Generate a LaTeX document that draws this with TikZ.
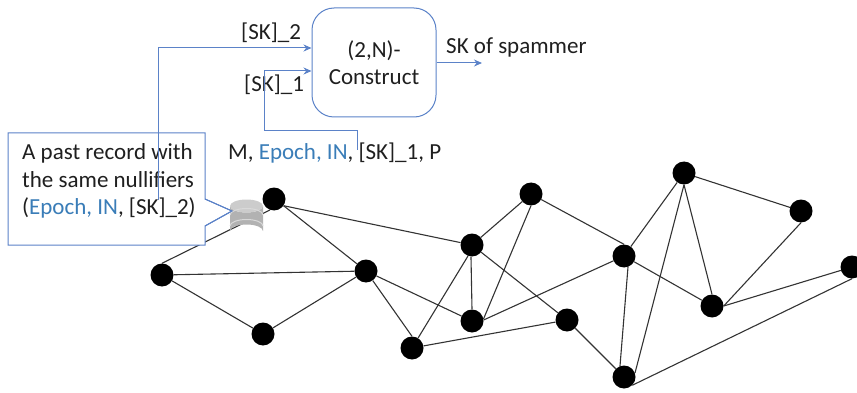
\documentclass[tikz,border=0pt]{standalone}
\usepackage{fontspec}
\setmainfont{Carlito}
\usetikzlibrary{arrows.meta}
\definecolor{lineblue}{HTML}{5B82C8}
\definecolor{textblue}{HTML}{3A7DB8}
\tikzset{
  peer/.style={circle,fill=black,inner sep=0pt,minimum size=23pt},
  link/.style={draw=black!80,line width=1.1pt},
  wire/.style={draw=lineblue,line width=1pt},
  arrowwire/.style={wire,-{Stealth[length=8pt,width=7pt]}},
  label/.style={font=\fontsize{23}{27}\selectfont,inner sep=0pt,text=black!88},
}
\newcommand{\bl}[1]{\textcolor{textblue}{#1}}
\begin{document}
\begin{tikzpicture}[x=1pt,y=-1pt]
\useasboundingbox (0,0) rectangle (857,393);
\foreach \n/\x/\y in {a/274/199,b/162/275,c/366/271,d/263/334,e/472/245,f/531/194,g/472/321,h/412/348,i/567/320,j/624/256,k/624/377,l/684/173,m/801/211,n/712/306,o/852/267}
  \node[peer] (\n) at (\x,\y) {};
\foreach \s/\t in {a.-35/e,a.-35/c,b.90/a.250,b/c,b/d,d/c,c/g,c/h.north,e/f,e.-110/h,e.-95/g.north,e/i,f.south/g.10,f/j.north,g.5/j,h/i,i/k,j.-70/k.110,j/l,j/n,k.20/l.south,l/m,l.south/n.north,m.south/n.east,n.east/o,k.-45/o.south}
  \draw[link] (\s) -- (\t);
% callout
\coordinate (tip) at (232,211);
\draw[wire,fill=white] (8,133) -- (205,133) -- (205,199) -- (tip) -- (205,226) -- (205,245) -- (8,245) -- cycle;
% database
\fill[black!30] (230,206) -- (230,231) arc[x radius=16.5,y radius=6.5,start angle=180,end angle=360] -- (263,206) arc[x radius=16.5,y radius=6.5,start angle=0,end angle=180] -- cycle;
\fill[black!20] (230,206) arc[x radius=16.5,y radius=6.5,start angle=180,end angle=360] arc[x radius=16.5,y radius=6.5,start angle=0,end angle=180] -- cycle;
\draw[white!85!black,line width=1pt] (230,215) arc[x radius=16.5,y radius=6.5,start angle=180,end angle=360];
\draw[white!85!black,line width=1pt] (230,226) arc[x radius=16.5,y radius=6.5,start angle=180,end angle=360];
\draw[wire] (205,199) -- (tip) -- (205,226);
% construct box
\node[draw=lineblue,line width=1pt,rounded corners=22pt,minimum width=124pt,minimum height=109pt,inner sep=0pt,label,align=center] (box) at (374,62.5) {(2,N)-\\Construct};
% texts
\node[label,anchor=west] (sk2) at (241,33) {[SK]\_2};
\node[label,anchor=west] (sk1) at (244,85) {[SK]\_1};
\node[label,anchor=west] (out) at (446,47) {SK of spammer};
\node[label,anchor=west] (msg) at (228,153) {M, \bl{Epoch, IN}, [SK]\_1, P};
\node[label,anchor=west] (rec1) at (22,153) {A past record with};
\node[label,anchor=west] (rec2) at (22,180) {the same nullifiers};
\node[label,anchor=west] (rec3) at (22,208) {(\bl{Epoch, IN}, [SK]\_2)};
% wires
\coordinate (s2) at (158,200);
\coordinate (s2b) at (158,48);
\coordinate (s1) at (357,150);
\coordinate (s1a) at (357,131);
\coordinate (s1b) at (264,131);
\coordinate (s1c) at (264,71);
\coordinate (oute) at (482,63);
\draw[arrowwire] (s2) -- (s2b) -- (box.west |- s2b);
\draw[arrowwire] (s1) -- (s1a) -- (s1b) -- (s1c) -- (box.west |- s1c);
\draw[arrowwire] (box.east |- oute) -- (oute);
\end{tikzpicture}
\end{document}
